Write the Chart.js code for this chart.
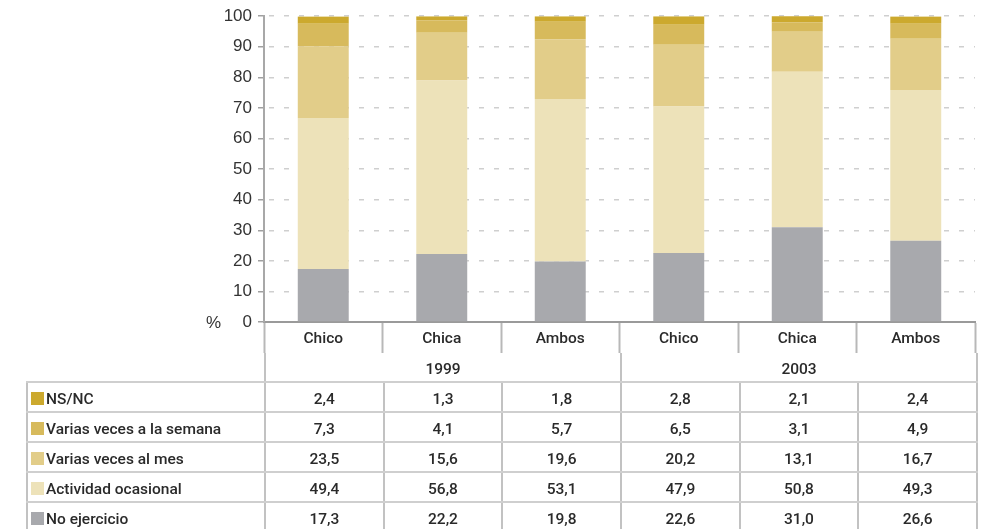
<!DOCTYPE html>
<html>
<head>
<meta charset="utf-8">
<script src="https://cdn.jsdelivr.net/npm/chart.js@4"></script>
<style>
    html, body { margin: 0; padding: 0; background: #fff; }
    #wrap { position: relative; width: 992px; height: 529px; overflow: hidden; }
    #chart { position: absolute; left: 0; top: 0; }
    #pct { position: absolute; left: 206px; top: 313px; font: 17px 'Liberation Sans', Arial, sans-serif; color: #333; }
    #tbl {
        position: absolute; left: 26px; top: 353px;
        border-collapse: collapse; table-layout: fixed; width: 950px;
        font: 500 15.5px Roboto, sans-serif; color: #2a2a2a;
    }
    #tbl td { padding: 3px 0 0 0; text-align: center; border: 2px solid #cfcfcf; border-top: 0; }
    #tbl td.v { border-left-color: #c2c2c2; border-right-color: #c2c2c2; }
    #tbl tr.year td { height: 25px; }
    #tbl tr.year td.blank { border: 0; border-bottom: 2px solid #cfcfcf; }
    #tbl tr.row td { height: 25px; }
    #tbl td.lbl { text-align: left; padding-left: 3px; white-space: nowrap; }
    #tbl .sw { display: inline-block; width: 13px; height: 13px; margin-right: 2px; vertical-align: -1px; }
</style>
</head>
<body>
<div id="wrap">
    <canvas id="chart" width="992" height="354"></canvas>
    <div id="pct">%</div>
    <table id="tbl">
        <colgroup id="cols"></colgroup>
        <tbody id="tbody"></tbody>
    </table>
</div>
<script>
(function () {
    'use strict';

    const categories = ['Chico', 'Chica', 'Ambos', 'Chico', 'Chica', 'Ambos'];
    const years = ['1999', '2003'];

    const nsnc = [2.4, 1.3, 1.8, 2.8, 2.1, 2.4];
    const variasSemana = [7.3, 4.1, 5.7, 6.5, 3.1, 4.9];
    const variasMes = [23.5, 15.6, 19.6, 20.2, 13.1, 16.7];
    const ocasional = [49.4, 56.8, 53.1, 47.9, 50.8, 49.3];
    const noEjercicio = [17.3, 22.2, 19.8, 22.6, 31.0, 26.6];

    // bottom of the stack first
    const series = [
        { label: 'No ejercicio', data: noEjercicio, color: '#a8a9ad' },
        { label: 'Actividad ocasional', data: ocasional, color: '#ede2b9' },
        { label: 'Varias veces al mes', data: variasMes, color: '#e2cd89' },
        { label: 'Varias veces a la semana', data: variasSemana, color: '#d7ba5c' },
        { label: 'NS/NC', data: nsnc, color: '#cca92e' }
    ];

    function fmt(v) {
        return v.toFixed(1).replace('.', ',');
    }

    new Chart(document.getElementById('chart'), {
        type: 'bar',
        data: {
            labels: categories,
            datasets: series.map(s => ({
                label: s.label,
                data: s.data,
                backgroundColor: s.color,
                borderWidth: 0,
                barPercentage: 0.43,
                categoryPercentage: 1
            }))
        },
        options: {
            responsive: false,
            animation: false,
            layout: { padding: { top: 15, right: 17, bottom: 0, left: 0 } },
            plugins: {
                legend: { display: false },
                tooltip: { enabled: false }
            },
            scales: {
                x: {
                    stacked: true,
                    grid: {
                        offset: true,
                        drawOnChartArea: false,
                        tickLength: 31,
                        tickColor: '#b8b8b8',
                        tickWidth: 2
                    },
                    border: { color: '#9a9a9a', width: 2 },
                    ticks: {
                        padding: -23,
                        color: '#2a2a2a',
                        font: { family: 'Roboto', size: 15.5, weight: '500' }
                    },
                    afterFit: function (scale) { scale.height = 32; }
                },
                y: {
                    stacked: true,
                    min: 0,
                    max: 100,
                    ticks: {
                        stepSize: 10,
                        padding: 6,
                        color: '#333',
                        font: { family: "'Liberation Sans', Arial", size: 17 }
                    },
                    grid: {
                        color: '#cfcfcf',
                        lineWidth: 1.5,
                        tickColor: '#a0a0a0',
                        tickLength: 6,
                        tickWidth: 1.5
                    },
                    border: { color: '#a8a8a8', width: 2, dash: [5, 10], dashOffset: -4 },
                    afterFit: function (scale) { scale.width = 264; }
                }
            }
        }
    });

    // data table under the chart
    const cols = document.getElementById('cols');
    const widths = [238].concat(categories.map(() => 712 / categories.length));
    widths.forEach(w => {
        const c = document.createElement('col');
        c.style.width = w + 'px';
        cols.appendChild(c);
    });

    const tbody = document.getElementById('tbody');
    const yearRow = document.createElement('tr');
    yearRow.className = 'year';
    let html = '<td class="blank"></td>';
    years.forEach(y => {
        html += '<td class="v" colspan="' + (categories.length / years.length) + '">' + y + '</td>';
    });
    yearRow.innerHTML = html;
    tbody.appendChild(yearRow);

    series.slice().reverse().forEach(s => {
        const tr = document.createElement('tr');
        tr.className = 'row';
        let h = '<td class="lbl v"><span class="sw" style="background:' + s.color + '"></span>' + s.label + '</td>';
        s.data.forEach(v => {
            h += '<td class="v">' + fmt(v) + '</td>';
        });
        tr.innerHTML = h;
        tbody.appendChild(tr);
    });
})();
</script>
</body>
</html>
